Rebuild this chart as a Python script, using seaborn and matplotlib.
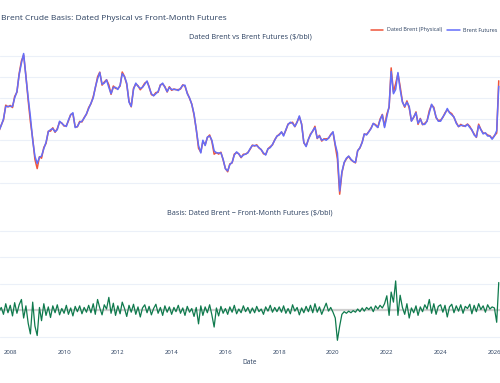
import pandas as pd
import matplotlib
matplotlib.use("Agg")
import matplotlib.pyplot as plt
import matplotlib.dates as mdates
import seaborn as sns

# monthly values, Aug 2007 .. Mar 2026
dates = pd.date_range("2007-08-01", "2026-03-01", freq="MS")

futures = [
    69, 74, 80, 92, 92,
    92, 92, 100, 106, 122, 133, 142, 120, 100, 82, 60, 45,
    38, 44, 45, 52, 58, 68, 70, 71, 68, 70, 78, 76,
    74, 73, 79, 84, 86, 72, 73, 77, 78, 81, 85, 90,
    95, 100, 110, 118, 124, 113, 114, 117, 110, 104, 110, 110,
    108, 112, 123, 120, 114, 96, 92, 108, 114, 111, 109, 110,
    113, 116, 110, 104, 102, 104, 106, 112, 114, 110, 106, 110,
    108, 108, 108, 107, 109, 112, 112, 104, 100, 94, 85, 70,
    55, 48, 60, 55, 63, 64, 60, 50, 48, 48, 48, 42,
    33, 31, 37, 39, 46, 49, 47, 44, 46, 47, 48, 52,
    55, 55, 55, 53, 51, 48, 46, 52, 53, 56, 60, 64,
    65, 68, 64, 70, 75, 77, 76, 73, 77, 83, 75, 58,
    54, 61, 65, 69, 72, 62, 64, 60, 61, 60, 62, 65,
    68, 56, 48, 12, 30, 39, 43, 45, 42, 40, 39, 50,
    53, 58, 66, 65, 68, 71, 76, 74, 72, 79, 84, 72,
    82, 92, 125, 104, 108, 124, 108, 96, 92, 96, 92, 78,
    82, 86, 76, 80, 75, 75, 78, 86, 94, 90, 82, 78,
    78, 82, 85, 90, 86, 84, 82, 76, 73, 74, 74, 73,
    75, 72, 70, 65, 63, 74, 70, 66, 67, 64, 64, 61,
    64, 69, 111,
]

basis = [
    -0.3, 0.5, -0.8, 1.2, -0.5,
    0.9, -1.1, 1.4, -0.6, 1.0, 2.0, -1.5, 0.8, -2.5, -4.5, 1.5, -3.0,
    -4.8, 0.5, -2.0, 1.2, -1.0, 0.6, -1.4, 0.8, -0.5, 1.0, -0.9, 0.3,
    -0.6, 0.9, -0.8, 0.4, -1.1, 0.7, -0.3, 0.8, -0.7, 0.5, -0.4, 0.9,
    -0.5, 1.2, -0.8, 2.0, 0.4, -0.9, 1.0, 0.2, 2.4, -0.6, 1.3, -1.0,
    0.8, -0.7, 1.5, 0.3, -1.2, 0.9, -0.4, 1.1, -0.8, 0.6, -1.3, 0.4,
    1.0, -0.5, 0.7, -0.9, 0.3, 1.1, -0.6, 0.5, -1.0, 0.8, -0.4, 0.6,
    -0.8, 0.5, -0.3, 0.9, -0.6, 0.4, -1.0, 0.7, -0.4, 0.3, -1.2, 0.5,
    -2.6, 0.8, -1.0, 0.6, -0.5, 1.0, -0.9, -3.2, 0.4, -1.1, 0.7, -0.6,
    0.3, -0.8, 0.6, -0.4, 0.9, -0.7, 0.2, -0.5, 0.8, -0.3, 0.5, -0.6,
    0.4, -0.5, 0.7, -0.3, 0.2, -0.8, 0.6, -0.2, 0.9, -0.4, 0.5, -0.3,
    0.6, -0.4, 0.8, -0.6, 0.3, -0.7, 1.0, -0.2, 0.5, -0.9, 0.4, -0.5,
    0.7, -0.3, 0.9, -0.5, 1.2, -0.4, 0.6, -0.8, 0.3, 1.3, -0.2, 0.5,
    -0.4, -1.5, -5.7, -3.0, -0.8, -0.3, -0.6, -0.2, -0.5, -0.1, -0.4, 0.2,
    -0.3, 0.4, -0.2, 0.5, 0.1, 0.6, -0.3, 0.8, 0.2, 0.9, 0.4, 1.2,
    2.7, -1.0, 3.4, 1.5, 5.5, -1.0, 2.8, 0.5, -0.8, 1.2, -1.5, 0.4,
    -0.5, 0.8, -1.0, 0.6, -0.3, 1.0, 0.2, 2.0, -0.6, 1.2, -0.8, 0.7,
    1.0, -0.4, 0.9, -1.3, 0.6, 1.1, -0.5, 0.8, -0.2, 1.0, -0.6, 0.7,
    0.3, 1.1, -0.7, 0.9, -0.3, 1.2, 0.1, 0.8, -0.4, 1.0, 0.2, 0.6,
    0.4, -2.3, 5.2,
]

price_ticks = [20, 40, 60, 80, 100, 120, 140]
basis_ticks = [-5, 0, 5, 10, 15]
year_ticks = list(range(2008, 2027, 2))

df = pd.DataFrame({"Date": dates, "futures": futures, "basis": basis})
df["dated"] = df["futures"] + df["basis"]

sns.set_theme(style="white")
plt.rcParams["font.family"] = ["Open Sans", "DejaVu Sans"]

TXT = "#2a3f5f"
GRID = "#ebf0f8"

fig = plt.figure(figsize=(5, 3.83), dpi=100)
H = 383.0
ax1 = fig.add_axes([0, 1 - 200 / H, 1, 156 / H])
ax2 = fig.add_axes([0, 1 - 344 / H, 1, 124 / H])

sns.lineplot(data=df, x="Date", y="dated", ax=ax1, color="#EF553B", lw=1.1,
             label="Dated Brent (Physical)")
sns.lineplot(data=df, x="Date", y="futures", ax=ax1, color="#636EFA", lw=1.1,
             label="Brent Futures")
ax2.axhline(0, color="#cfcfcf", lw=1.6, zorder=1)
sns.lineplot(data=df, x="Date", y="basis", ax=ax2, color="#0f7a4d", lw=0.9,
             zorder=3)

x0 = pd.Timestamp("2007-08-15")
x1 = pd.Timestamp("2026-03-18")
for ax in (ax1, ax2):
    ax.set_xlim(x0, x1)
    ax.set_facecolor("white")
    for s in ax.spines.values():
        s.set_visible(False)
    ax.grid(False)
    ax.grid(True, axis="y", color=GRID, lw=0.8)
    ax.set_axisbelow(True)
    ax.set_xticks([pd.Timestamp(f"{y}-01-01") for y in year_ticks])
    ax.xaxis.set_major_formatter(mdates.DateFormatter("%Y"))
    ax.tick_params(length=0, labelsize=4.3, colors=TXT, pad=4)
    ax.set_ylabel("")

# y tick labels sit outside the cropped view in the reference
ax1.set_ylim(3.5, 151)
ax1.set_yticks(price_ticks)
ax1.set_yticklabels([])
ax1.set_xticklabels([])
ax1.set_xlabel("")
ax1.get_legend().remove()

ax2.set_ylim(-6.4, 17)
ax2.set_yticks(basis_ticks)
ax2.set_yticklabels([])
ax2.set_xlabel("Date", fontsize=4.8, color=TXT, labelpad=3)

fig.text(0.002, 1 - 18 / H, "Brent Crude Basis: Dated Physical vs Front-Month Futures",
         fontsize=6.0, color=TXT, ha="left", va="center")
fig.text(0.5, 1 - 37 / H, "Dated Brent vs Brent Futures ($/bbl)",
         fontsize=5.2, color=TXT, ha="center", va="center")
fig.text(0.5, 1 - 213 / H, "Basis: Dated Brent \u2212 Front-Month Futures ($/bbl)",
         fontsize=5.2, color=TXT, ha="center", va="center")

handles, labels = ax1.get_legend_handles_labels()
fig.legend(handles, labels, loc="center left", bbox_to_anchor=(371 / 500, 1 - 30 / H),
           ncol=2, frameon=False, fontsize=3.9, handlelength=2.3, handletextpad=0.6,
           columnspacing=1.0, borderpad=0, borderaxespad=0, labelcolor=TXT)

fig.savefig("out.png", dpi=100)
